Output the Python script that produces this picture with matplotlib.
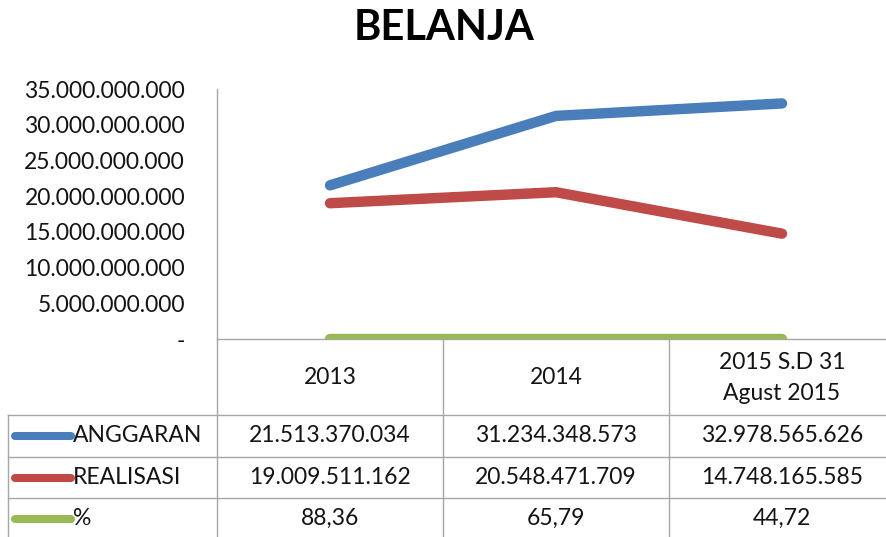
import matplotlib
matplotlib.use("Agg")
import matplotlib.pyplot as plt
from matplotlib.ticker import FuncFormatter

# ---- data ----
categories = ["2013", "2014", "2015 S.D 31\nAgust 2015"]
series_names = ["ANGGARAN", "REALISASI", "%"]
anggaran = [21513370034, 31234348573, 32978565626]
realisasi = [19009511162, 20548471709, 14748165585]
persen = [88.36, 65.79, 44.72]
y_ticks = [0, 5e9, 10e9, 15e9, 20e9, 25e9, 30e9, 35e9]
title = "BELANJA"

colors = ["#4A7EBB", "#BE4B48", "#98B954"]
FONT = "Lato"
TXT = "#141414"
GRID = "#a6a6a6"
FS = 16.5

W, H = 887, 537
fig = plt.figure(figsize=(W / 100, H / 100), dpi=100)


def fx(px):
    return px / W


def fy(py):
    return 1 - py / H


# main plot area (pixel geometry)
L, R, T, B = 217, 895, 89, 339
ax = fig.add_axes([fx(L), fy(B), fx(R) - fx(L), fy(T) - fy(B)])
xs = list(range(len(categories)))
for vals, c in zip([anggaran, realisasi, persen], colors):
    ax.plot(xs, vals, color=c, lw=7.5, solid_capstyle="round", zorder=3)
ax.set_xlim(-0.5, len(categories) - 0.5)
ax.set_ylim(0, 35e9)
ax.set_yticks(y_ticks)


def fmt(v, pos=None):
    if v == 0:
        return "-"
    return f"{int(round(v)):,}".replace(",", ".")


ax.yaxis.set_major_formatter(FuncFormatter(fmt))
ax.tick_params(axis="y", length=0, pad=23, labelsize=FS, labelcolor=TXT)
for lab in ax.get_yticklabels():
    lab.set_fontfamily(FONT)
ax.set_xticks([])
for s in ["top", "right"]:
    ax.spines[s].set_visible(False)
for s in ["left", "bottom"]:
    ax.spines[s].set_color(GRID)
    ax.spines[s].set_linewidth(1.0)

# title
fig.text(fx(444), fy(28), title, ha="center", va="center", fontsize=30,
         fontweight="bold", fontfamily=FONT, color="#000000")

# ---- data table below the plot ----
tab = fig.add_axes([0, 0, 1, 1], facecolor="none")
tab.set_xlim(0, W)
tab.set_ylim(H, 0)
tab.axis("off")

# column boundaries / centres derived from main axis data scale
def col_px(xd):
    disp = ax.transData.transform((xd, 0))
    return tab.transData.inverted().transform(disp)[0]


centers = [col_px(i) for i in xs]
bounds = [col_px(i - 0.5) for i in xs] + [col_px(len(xs) - 0.5)]

row_lines = [415, 457, 498, 539]
left_edge = 8
# horizontal lines
for y in row_lines:
    tab.plot([left_edge, bounds[-1]], [y, y], color=GRID, lw=1.0, clip_on=False)
# vertical lines
for xb in bounds:
    tab.plot([xb, xb], [B, 539], color=GRID, lw=1.0, clip_on=False)
tab.plot([left_edge, left_edge], [row_lines[0], 539], color=GRID, lw=1.0)

# header
for cx, cat in zip(centers, categories):
    tab.text(cx, (B + row_lines[0]) / 2 + 1, cat, ha="center", va="center",
             fontsize=FS, fontfamily=FONT, color=TXT, linespacing=1.55)


def fmt_pct(v):
    return f"{v:.2f}".replace(".", ",")


rows = [[fmt(v) for v in anggaran], [fmt(v) for v in realisasi],
        [fmt_pct(v) for v in persen]]
for r, (name, c, vals) in enumerate(zip(series_names, colors, rows)):
    yc = (row_lines[r] + row_lines[r + 1]) / 2
    tab.plot([15, 71], [yc, yc], color=c, lw=5.8, solid_capstyle="round")
    tab.text(73, yc, name, ha="left", va="center", fontsize=FS,
             fontfamily=FONT, color=TXT)
    for cx, s in zip(centers, vals):
        tab.text(cx, yc, s, ha="center", va="center", fontsize=FS,
                 fontfamily=FONT, color=TXT)

fig.savefig("out.png", dpi=100)
